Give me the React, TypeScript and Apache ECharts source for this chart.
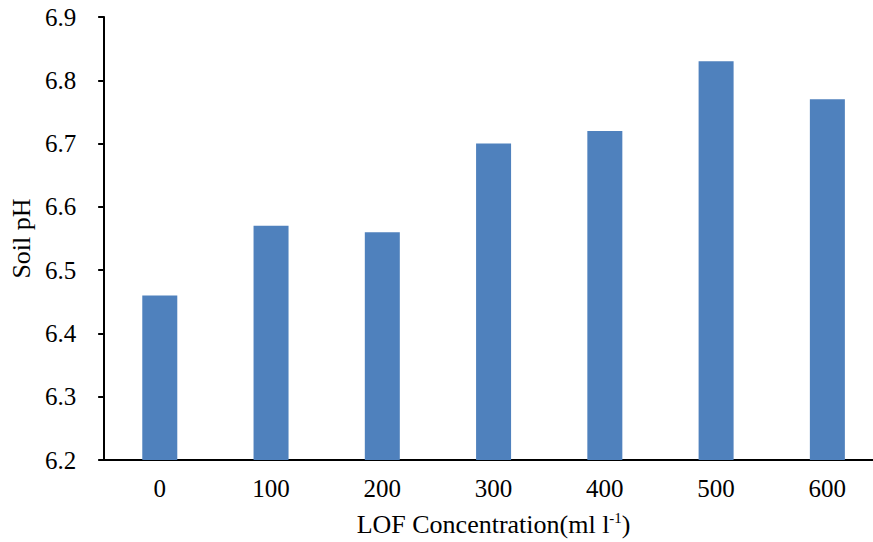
import React, { useEffect, useRef } from "react";
import * as echarts from "echarts";

const categories = ["0", "100", "200", "300", "400", "500", "600"];
const soilPH = [6.46, 6.57, 6.56, 6.7, 6.72, 6.83, 6.77];
const yTicks = { min: 6.2, max: 6.9, interval: 0.1 };

export default function App() {
  const ref = useRef<HTMLDivElement>(null);
  useEffect(() => {
    if (!ref.current) return;
    const chart = echarts.init(ref.current, null, { renderer: "svg" });
    const font = "Liberation Serif";
    chart.setOption({
      animation: false,
      grid: { left: 102, top: 17, bottom: 80, right: 7 },
      xAxis: {
        type: "category",
        data: categories,
        axisLine: { lineStyle: { color: "#000", width: 2 } },
        axisTick: { show: false },
        axisLabel: { color: "#000", fontFamily: font, fontSize: 25, margin: 16 },
        name: "{a|LOF Concentration(ml l}{b|-1}{a|)}",
        nameLocation: "middle",
        nameGap: 50,
        nameTextStyle: {
          rich: {
            a: { fontFamily: font, fontSize: 26, color: "#000", lineHeight: 28 },
            b: { fontFamily: font, fontSize: 15, color: "#000", padding: [0, 0, 12, 0] },
          },
        },
      },
      yAxis: {
        type: "value",
        min: yTicks.min,
        max: yTicks.max,
        interval: yTicks.interval,
        axisLine: { show: true, lineStyle: { color: "#000", width: 2 } },
        axisTick: { show: true, length: 6, lineStyle: { color: "#000", width: 2 } },
        splitLine: { show: false },
        axisLabel: {
          color: "#000",
          fontFamily: font,
          fontSize: 25,
          margin: 28,
          formatter: (v: number) => v.toFixed(1),
        },
        name: "Soil pH",
        nameLocation: "middle",
        nameGap: 66,
        nameTextStyle: { fontFamily: font, fontSize: 26, color: "#000" },
      },
      series: [
        {
          type: "bar",
          data: soilPH,
          barWidth: 35,
          itemStyle: { color: "#4F81BD" },
        },
      ],
    });
    return () => chart.dispose();
  }, []);
  return (
    <div style={{ position: "fixed", left: 0, top: 0, width: 873, height: 542, overflow: "hidden", background: "#fff" }}>
      <div ref={ref} style={{ width: 890, height: 542 }} />
    </div>
  );
}
